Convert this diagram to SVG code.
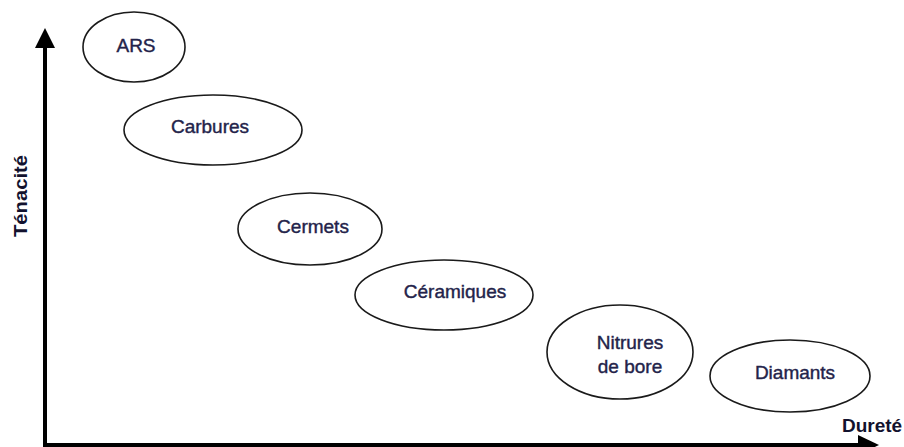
<svg xmlns="http://www.w3.org/2000/svg" width="904" height="447" viewBox="0 0 904 447">
<style>
.n ellipse{fill:#fff;stroke:#1a1a1a;stroke-width:1.6}
.n text{font-family:"Liberation Sans",Arial,sans-serif;font-size:19px;fill:#23234a;stroke:#23234a;stroke-width:0.4;text-anchor:middle}
.ax{font-family:"Liberation Sans",Arial,sans-serif;font-size:19px;font-weight:bold;fill:#12122e;text-anchor:middle}
.axis{stroke:#000;stroke-width:4;fill:none}
</style>
<rect width="904" height="447" fill="#fff"/>
<g id="axes">
<path class="axis" d="M45,445 V44"/>
<polygon points="45,28 35,48 55,48" fill="#000"/>
<path class="axis" d="M43,445 H862"/>
<polygon points="879,445 858,435 858,455" fill="#000"/>
<text class="ax" x="872" y="432">Dureté</text>
<text class="ax" transform="translate(27,196) rotate(-90)" x="0" y="0" textLength="82" lengthAdjust="spacingAndGlyphs">Ténacité</text>
</g>
<g id="ars" class="n"><ellipse cx="134" cy="47" rx="51" ry="35"/><text x="136" y="52">ARS</text></g>
<g id="carbures" class="n"><ellipse cx="213" cy="130" rx="89" ry="35"/><text x="210" y="133">Carbures</text></g>
<g id="cermets" class="n"><ellipse cx="310" cy="229" rx="72" ry="36"/><text x="313" y="233">Cermets</text></g>
<g id="ceramiques" class="n"><ellipse cx="444" cy="295" rx="89" ry="35"/><text x="455" y="298">Céramiques</text></g>
<g id="nitrures" class="n"><ellipse cx="620" cy="352" rx="73" ry="47"/><text x="630" y="349">Nitrures</text><text x="630" y="373">de bore</text></g>
<g id="diamants" class="n"><ellipse cx="790" cy="376" rx="80" ry="36"/><text x="795" y="379">Diamants</text></g>
</svg>
